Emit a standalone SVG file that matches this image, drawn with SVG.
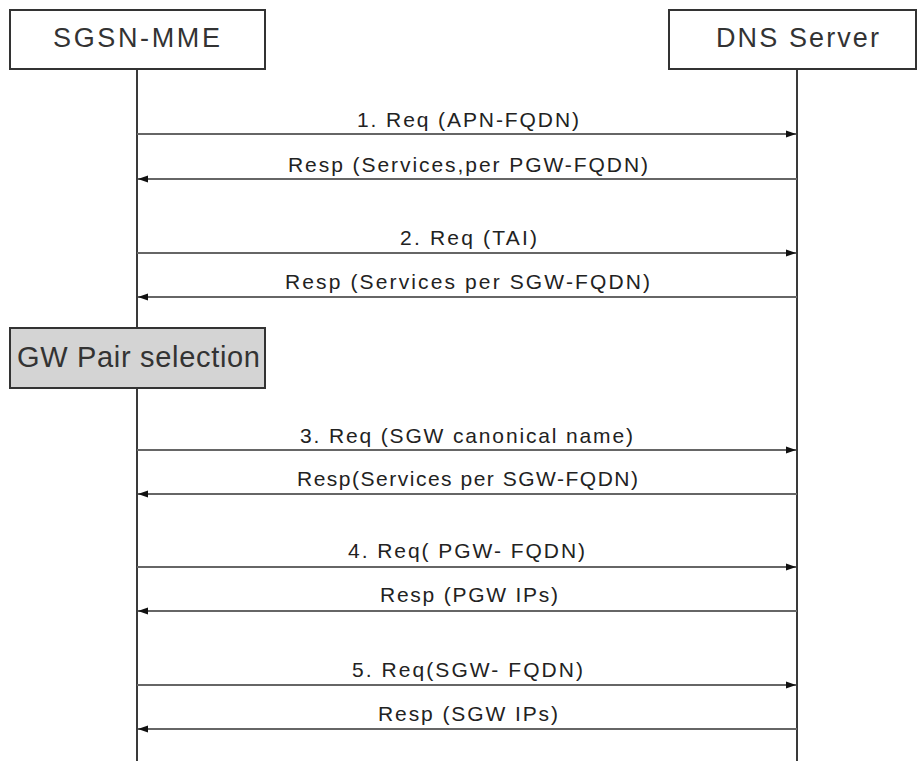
<svg xmlns="http://www.w3.org/2000/svg" width="917" height="761" viewBox="0 0 917 761">
<style>
.box{fill:#fff;stroke:#333;stroke-width:2}
.sel{fill:#d4d4d4;stroke:#333;stroke-width:2}
.life{stroke:#3a3a3a;stroke-width:2;fill:none}
.msg{stroke:#666;stroke-width:1.8;fill:none}
.hdr{font-family:"Liberation Sans",Arial,sans-serif;font-size:27px;fill:#333;text-anchor:start}
.lbl{font-family:"Liberation Sans",Arial,sans-serif;font-size:21px;fill:#222}
</style>
<defs>
<marker id="ah" viewBox="0 0 10 8" refX="10" refY="4" markerWidth="10" markerHeight="8" markerUnits="userSpaceOnUse" orient="auto">
<path d="M0,0.5 L10,4 L0,7.5 Z" fill="#111"/>
</marker>
</defs>
<rect width="917" height="761" fill="#fff"/>
<g id="lifelines">
<line class="life" x1="137" y1="69" x2="137" y2="328"/>
<line class="life" x1="137" y1="388" x2="137" y2="761"/>
<line class="life" x1="797" y1="69" x2="797" y2="761"/>
</g>
<g id="sgsn-mme">
<rect class="box" x="10" y="10" width="255" height="59"/>
<text class="hdr" x="53" y="47" textLength="167" lengthAdjust="spacing">SGSN-MME</text>
</g>
<g id="dns-server">
<rect class="box" x="669" y="10" width="247" height="59"/>
<text class="hdr" x="716" y="47" textLength="163" lengthAdjust="spacing">DNS Server</text>
</g>
<g id="gw-pair-selection">
<rect class="sel" x="10" y="328" width="255" height="60"/>
<text class="hdr" x="17" y="367" style="font-size:29px" textLength="243" lengthAdjust="spacing">GW Pair selection</text>
</g>
<g id="connectors">
<line class="msg" x1="137" y1="134" x2="796" y2="134" marker-end="url(#ah)"/>
<line class="msg" x1="797" y1="179" x2="138" y2="179" marker-end="url(#ah)"/>
<line class="msg" x1="137" y1="253" x2="796" y2="253" marker-end="url(#ah)"/>
<line class="msg" x1="797" y1="297" x2="138" y2="297" marker-end="url(#ah)"/>
<line class="msg" x1="137" y1="450" x2="796" y2="450" marker-end="url(#ah)"/>
<line class="msg" x1="797" y1="494" x2="138" y2="494" marker-end="url(#ah)"/>
<line class="msg" x1="137" y1="567" x2="796" y2="567" marker-end="url(#ah)"/>
<line class="msg" x1="797" y1="611" x2="138" y2="611" marker-end="url(#ah)"/>
<line class="msg" x1="137" y1="685" x2="796" y2="685" marker-end="url(#ah)"/>
<line class="msg" x1="797" y1="729" x2="138" y2="729" marker-end="url(#ah)"/>
</g>
<g id="labels">
<text class="lbl" x="357" y="127" textLength="222" lengthAdjust="spacing">1. Req (APN-FQDN)</text>
<text class="lbl" x="288" y="172" textLength="360" lengthAdjust="spacing">Resp (Services,per PGW-FQDN)</text>
<text class="lbl" x="400" y="245" textLength="137" lengthAdjust="spacing">2. Req (TAI)</text>
<text class="lbl" x="285" y="289" textLength="365" lengthAdjust="spacing">Resp (Services per SGW-FQDN)</text>
<text class="lbl" x="300" y="443" textLength="333" lengthAdjust="spacing">3. Req (SGW canonical name)</text>
<text class="lbl" x="297" y="486" textLength="341" lengthAdjust="spacing">Resp(Services per SGW-FQDN)</text>
<text class="lbl" x="348" y="558" textLength="237" lengthAdjust="spacing">4. Req( PGW- FQDN)</text>
<text class="lbl" x="380" y="602" textLength="178" lengthAdjust="spacing">Resp (PGW IPs)</text>
<text class="lbl" x="352" y="677" textLength="231" lengthAdjust="spacing">5. Req(SGW- FQDN)</text>
<text class="lbl" x="378" y="721" textLength="180" lengthAdjust="spacing">Resp (SGW IPs)</text>
</g>
</svg>
